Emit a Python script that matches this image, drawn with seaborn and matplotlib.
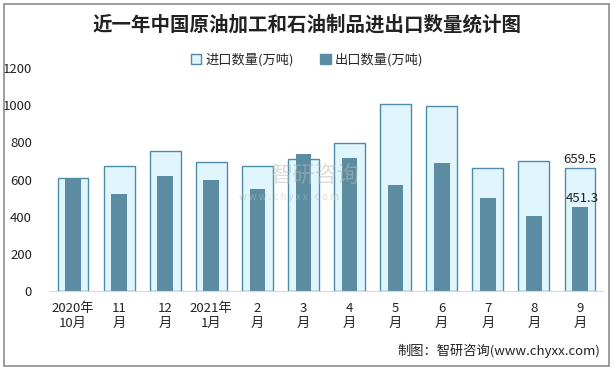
import pandas as pd
import seaborn as sns
import matplotlib.pyplot as plt
from matplotlib.patches import Patch, Rectangle

months = ["2020年\n10月", "11\n月", "12\n月", "2021年\n1月", "2\n月", "3\n月",
          "4\n月", "5\n月", "6\n月", "7\n月", "8\n月", "9\n月"]
imports = [606, 670, 756, 692, 670, 708, 799, 1004, 998, 660, 697, 659.5]
exports = [604, 521, 618, 597, 548, 736, 715, 570, 688, 500, 403, 451.3]

sns.set_style("white")
plt.rcParams['font.family'] = ['Noto Sans CJK SC', 'DejaVu Sans']

df = pd.DataFrame({"month": months, "imp": imports, "exp": exports})

fig = plt.figure(figsize=(6.14, 3.69), dpi=100)
ax = fig.add_axes([0.0814, 0.2114, 0.9007, 0.6043])

imp_fill = "#e1f5fc"
imp_edge = "#4f8ca8"
exp_color = "#5b8ca2"

sns.barplot(data=df, x="month", y="imp", ax=ax, color=imp_fill, width=0.67,
            edgecolor=imp_edge, linewidth=1.0, saturation=1)
sns.barplot(data=df, x="month", y="exp", ax=ax, color=exp_color, width=0.34,
            linewidth=0, saturation=1)

ax.set_ylim(0, 1200)
ax.set_xlim(-0.5, len(months) - 0.5)
ax.set_yticks(range(0, 1201, 200))
ax.set_xlabel("")
ax.set_ylabel("")
for s in ["top", "right", "left"]:
    ax.spines[s].set_visible(False)
ax.spines["bottom"].set_color("#d9d9d9")
ax.tick_params(axis="both", length=0, labelsize=9.5, colors="#222222")
ax.tick_params(axis="y", pad=13)
ax.tick_params(axis="x", pad=8)

n = len(months) - 1
ax.text(n, imports[-1] + 12, f"{imports[-1]}", ha="center", va="bottom",
        fontsize=9.5, color="#222222")
ax.text(n + 0.05, exports[-1] + 12, f"{exports[-1]}", ha="center", va="bottom",
        fontsize=9.5, color="#222222")

# watermark
fig.text(0.44, 0.505, "智研咨询", fontsize=16, color="#b8b8b8", alpha=0.5)
fig.text(0.39, 0.458, "w w w . c h y x x . c o m", fontsize=7, color="#b8b8b8", alpha=0.5)

fig.text(0.5, 0.932, "近一年中国原油加工和石油制品进出口数量统计图", ha="center", va="center",
         fontsize=14, fontweight="bold", color="#222222")

handles = [Patch(facecolor=imp_fill, edgecolor=imp_edge, label="进口数量(万吨)"),
           Patch(facecolor=exp_color, edgecolor=exp_color, label="出口数量(万吨)")]
fig.legend(handles=handles, loc="center", bbox_to_anchor=(0.5, 0.838), ncol=2,
           frameon=False, fontsize=9.5, handlelength=0.8, handleheight=0.8,
           handletextpad=0.3, columnspacing=2.0)

fig.text(0.978, 0.05, "制图：智研咨询(www.chyxx.com)", ha="right", va="center",
         fontsize=9.5, color="#222222")

fig.add_artist(Rectangle((0.006, 0.008), 0.986, 0.982, transform=fig.transFigure,
                         fill=False, edgecolor="#8c8c8c", linewidth=1.2))

fig.savefig("out.png", dpi=100)
